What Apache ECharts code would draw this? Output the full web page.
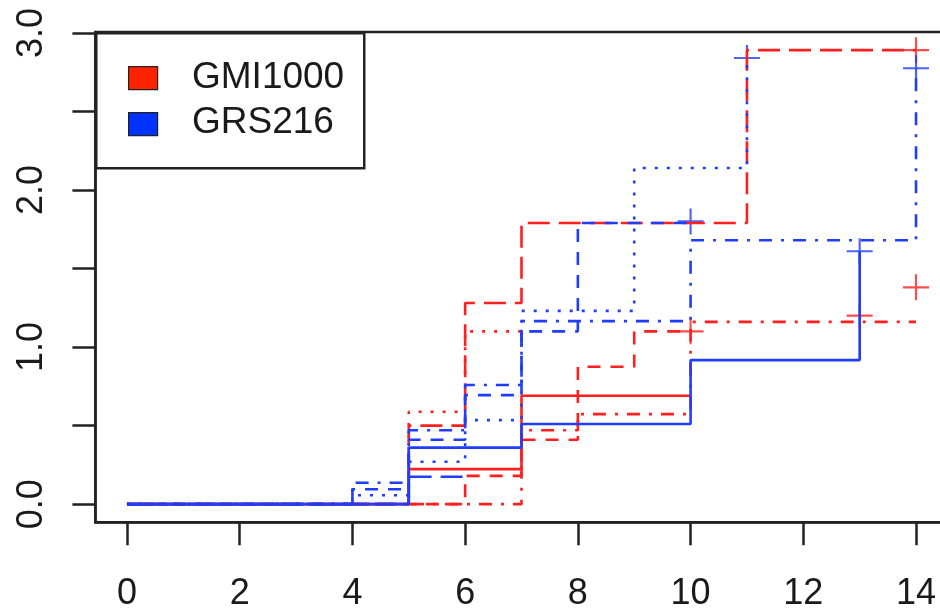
<!DOCTYPE html>
<html>
<head>
<meta charset="utf-8">
<script src="https://cdn.jsdelivr.net/npm/echarts/dist/echarts.min.js"></script>
<style>
    html, body { margin: 0; padding: 0; background: #fff; }
    #chart { width: 940px; height: 610px; }
</style>
</head>
<body>
<div id="chart"></div>
<script>
// cumulative hazard steps, [time, value] at each jump
var gmiSolid    = [[0, 0], [5, 0.223], [7, 0.69], [10, 0.69]];
var gmiDashed   = [[0, 0], [6, 0.18], [7, 0.41], [8, 0.875], [9, 1.10], [10, 1.10]];
var gmiDotted   = [[0, 0], [5, 0.588], [6, 1.10], [7, 1.10]];
var gmiDotdash  = [[0, 0], [7, 0.47], [8, 0.573], [10, 1.16], [14, 1.16]];
var gmiLongdash = [[0, 0], [5, 0.50], [6, 1.28], [7, 1.79], [11, 2.89], [14, 2.89]];

var grsSolid    = [[0, 0], [5, 0.36], [7, 0.51], [10, 0.917], [13, 1.61]];
var grsDashed   = [[0, 0], [4, 0.095], [5, 0.41], [6, 0.694], [7, 1.10], [8, 1.79], [10, 1.79]];
var grsDotted   = [[0, 0], [4, 0.057], [5, 0.27], [6, 0.535], [7, 1.23], [9, 2.14], [11, 2.84]];
var grsDotdash  = [[0, 0], [4, 0.136], [5, 0.47], [6, 0.758], [7, 1.165], [10, 1.68], [14, 2.775]];
var grsLongdash = [[0, 0], [5, 0.174], [6, 0.174]];

// censoring marks (+)
var gmiCensor = [[10, 1.10], [13, 1.20], [14, 1.38], [14, 2.89]];
var grsCensor = [[10, 1.80], [11, 2.84], [13, 1.61], [14, 2.775]];

var xTicks = [0, 2, 4, 6, 8, 10, 12, 14];
var yTicks = [0, 0.5, 1, 1.5, 2, 2.5, 3];
var yLabels = [0, 1, 2, 3];
var legendNames = ['GMI1000', 'GRS216'];

var RED = '#ff1f1f', BLUE = '#1f3dff';
var FONT = "'Liberation Sans', Arial, sans-serif";

// R style line types
var LTY = {
    solid: 'solid',
    dashed: [13, 10],
    dotted: [3, 9],
    dotdash: [3, 9, 13, 9],
    longdash: [22, 9]
};

function stepSeries(name, data, color, lty) {
    return {
        name: name,
        type: 'line',
        step: 'end',
        data: data,
        showSymbol: false,
        symbol: 'none',
        silent: true,
        lineStyle: { color: color, width: 2.6, type: LTY[lty], cap: 'butt' }
    };
}

function censorSeries(name, data, color) {
    return {
        name: name,
        type: 'scatter',
        data: data,
        symbol: 'path://M11,0h2v24h-2zM0,11h24v2h-24z',
        symbolSize: 26,
        silent: true,
        itemStyle: { color: color }
    };
}

var chart = echarts.init(document.getElementById('chart'));

var option = {
    animation: false,
    backgroundColor: '#fff',
    grid: {
        left: 95.4,
        top: 32,
        width: 852.2,
        height: 490.3,
        outerBoundsMode: 'none',
        containLabel: false,
        show: true,
        borderColor: '#222',
        borderWidth: 2.5,
        backgroundColor: 'transparent'
    },
    xAxis: {
        type: 'value',
        min: -0.56,
        max: 14.56,
        axisLine: { show: true, onZero: false, lineStyle: { color: '#222', width: 2.5 } },
        axisTick: {
            show: true,
            customValues: xTicks,
            length: 23,
            lineStyle: { color: '#222', width: 2.5 }
        },
        axisLabel: {
            customValues: xTicks,
            fontFamily: FONT,
            fontSize: 36,
            color: '#1a1a1a',
            margin: 54
        },
        splitLine: { show: false }
    },
    yAxis: {
        type: 'value',
        min: -0.1156,
        max: 3.0056,
        axisLine: { show: true, onZero: false, lineStyle: { color: '#222', width: 2.5 } },
        axisTick: {
            show: true,
            customValues: yTicks,
            length: 23,
            lineStyle: { color: '#222', width: 2.5 }
        },
        axisLabel: {
            customValues: yLabels,
            rotate: 90,
            fontFamily: FONT,
            fontSize: 36,
            color: '#1a1a1a',
            margin: 45,
            formatter: function (v) { return v.toFixed(1); }
        },
        splitLine: { show: false }
    },
    series: [
        stepSeries('GMI1000', gmiSolid, RED, 'solid'),
        stepSeries('GMI1000', gmiDashed, RED, 'dashed'),
        stepSeries('GMI1000', gmiDotted, RED, 'dotted'),
        stepSeries('GMI1000', gmiDotdash, RED, 'dotdash'),
        stepSeries('GMI1000', gmiLongdash, RED, 'longdash'),
        censorSeries('GMI1000', gmiCensor, RED),
        stepSeries('GRS216', grsSolid, BLUE, 'solid'),
        stepSeries('GRS216', grsDashed, BLUE, 'dashed'),
        stepSeries('GRS216', grsDotted, BLUE, 'dotted'),
        stepSeries('GRS216', grsDotdash, BLUE, 'dotdash'),
        stepSeries('GRS216', grsLongdash, BLUE, 'longdash'),
        censorSeries('GRS216', grsCensor, BLUE)
    ],
    // legend box drawn like R's legend()
    graphic: [
        {
            type: 'rect', left: 95, top: 32, z: 100,
            shape: { width: 268, height: 135 },
            style: { fill: '#fff', stroke: '#222', lineWidth: 2.5 }
        },
        {
            type: 'rect', left: 128, top: 66, z: 101,
            shape: { width: 29, height: 23 },
            style: { fill: '#ff2200', stroke: '#222', lineWidth: 1.2 }
        },
        {
            type: 'rect', left: 128, top: 112, z: 101,
            shape: { width: 29, height: 23 },
            style: { fill: '#0033ff', stroke: '#222', lineWidth: 1.2 }
        },
        {
            type: 'text', x: 192, y: 78, z: 101,
            style: { text: legendNames[0], font: '37px ' + FONT, fill: '#1a1a1a', verticalAlign: 'middle' }
        },
        {
            type: 'text', x: 192, y: 123, z: 101,
            style: { text: legendNames[1], font: '37px ' + FONT, fill: '#1a1a1a', verticalAlign: 'middle' }
        }
    ]
};

chart.setOption(option);
</script>
</body>
</html>
